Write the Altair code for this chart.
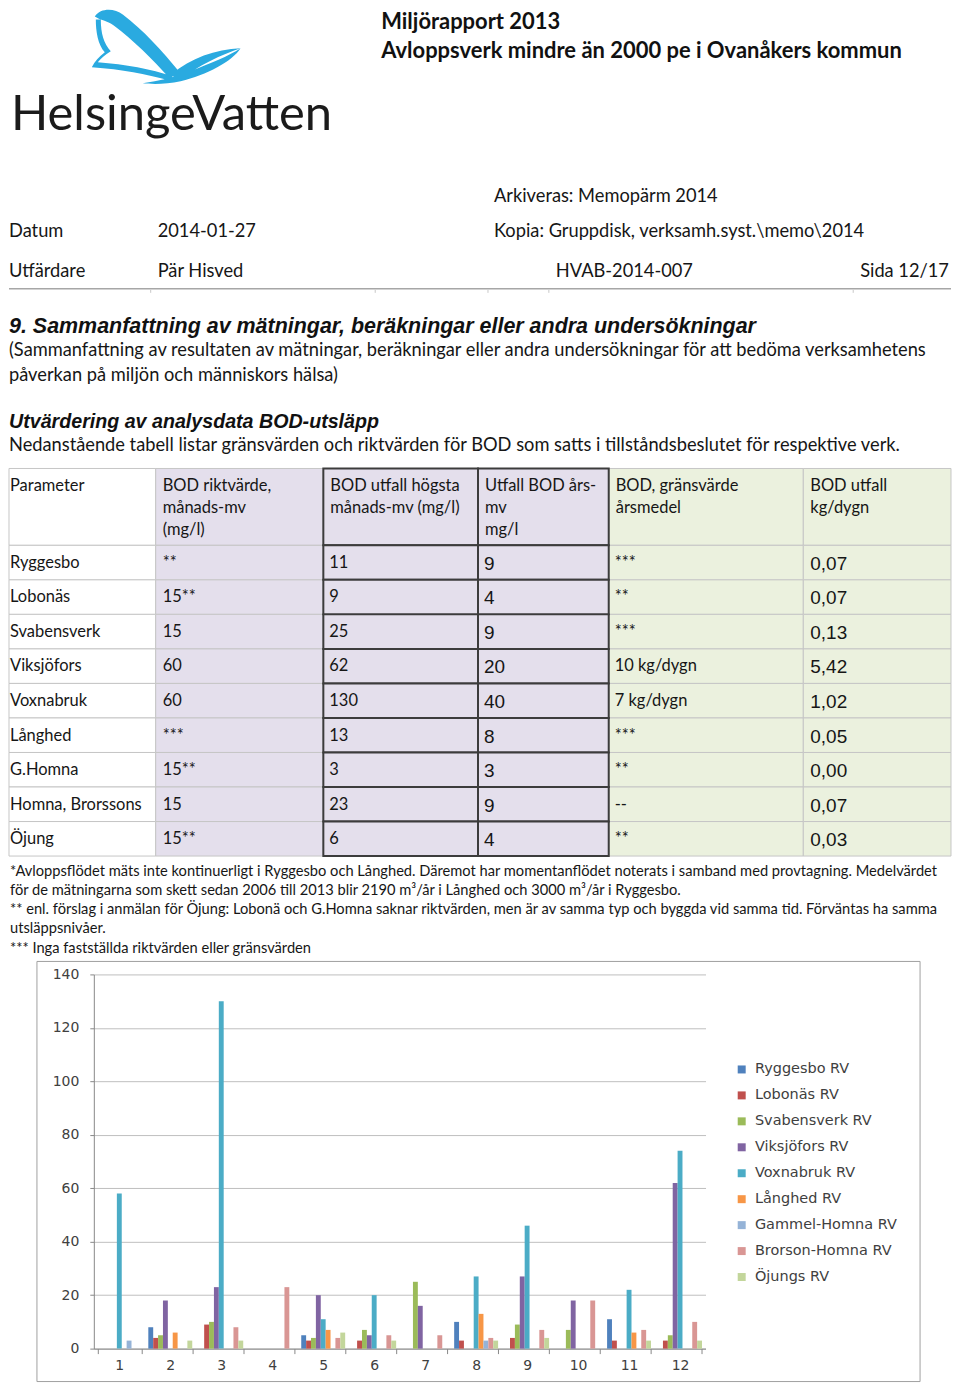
import altair as alt
import pandas as pd

# ---------------- chart data ----------------
months = [str(m) for m in range(1, 13)]
series = ["Ryggesbo RV", "Lobonäs RV", "Svabensverk RV", "Viksjöfors RV",
          "Voxnabruk RV", "Långhed RV", "Gammel-Homna RV", "Brorson-Homna RV", "Öjungs RV"]
ryggesbo = [0, 8, 0, 0, 5, 0, 0, 10, 0, 0, 11, 0]
lobonas = [0, 4, 9, 0, 3, 3, 0, 3, 4, 0, 3, 3]
svabensverk = [0, 5, 10, 0, 4, 7, 25, 0, 9, 7, 0, 5]
viksjofors = [0, 18, 23, 0, 20, 5, 16, 0, 27, 18, 0, 62]
voxnabruk = [58, 0, 130, 0, 11, 20, 0, 27, 46, 0, 22, 74]
langhed = [0, 6, 0, 0, 7, 0, 0, 13, 0, 0, 6, 0]
gammel_homna = [3, 0, 0, 0, 0, 0, 0, 3, 0, 0, 0, 0]
brorson_homna = [0, 0, 8, 23, 4, 5, 5, 4, 7, 18, 7, 10]
ojungs = [0, 3, 3, 0, 6, 3, 0, 3, 4, 0, 3, 3]
y_ticks = [0, 20, 40, 60, 80, 100, 120, 140]
series_colors = ["#4F81BD", "#C0504D", "#9BBB59", "#8064A2", "#4BACC6",
                 "#F79646", "#95B3D7", "#D99694", "#C3D69B"]

# ---------------- table data ----------------
col_headers = [["Parameter"],
               ["BOD riktvärde,", "månads-mv", "(mg/l)"],
               ["BOD utfall högsta", "månads-mv (mg/l)"],
               ["Utfall BOD års-", "mv", "mg/l"],
               ["BOD, gränsvärde", "årsmedel"],
               ["BOD utfall", "kg/dygn"]]
plants = ["Ryggesbo", "Lobonäs", "Svabensverk", "Viksjöfors", "Voxnabruk",
          "Långhed", "G.Homna", "Homna, Brorssons", "Öjung"]
riktvarde = ["**", "15**", "15", "60", "60", "***", "15**", "15", "15**"]
utfall_hogsta = ["11", "9", "25", "62", "130", "13", "3", "23", "6"]
utfall_ar = ["9", "4", "9", "20", "40", "8", "3", "9", "4"]
gransvarde = ["***", "**", "***", "10 kg/dygn", "7 kg/dygn", "***", "**", "--", "**"]
kg_dygn = ["0,07", "0,07", "0,13", "5,42", "1,02", "0,05", "0,00", "0,07", "0,03"]

title_lines = ["Miljörapport 2013", "Avloppsverk mindre än 2000 pe i Ovanåkers kommun"]
heading1 = "9. Sammanfattning av mätningar, beräkningar eller andra undersökningar"
heading2 = "Utvärdering av analysdata BOD-utsläpp"
para_lines = ["(Sammanfattning av resultaten av mätningar, beräkningar eller andra undersökningar för att bedöma verksamhetens",
              "påverkan på miljön och människors hälsa)",
              "Nedanstående tabell listar gränsvärden och riktvärden för BOD som satts i tillståndsbeslutet för respektive verk."]
footnotes = ["*Avloppsflödet mäts inte kontinuerligt i Ryggesbo och Långhed. Däremot har momentanflödet noterats i samband med provtagning. Medelvärdet",
             "för de mätningarna som skett sedan 2006 till 2013 blir 2190 m³/år i Långhed och 3000 m³/år i Ryggesbo.",
             "** enl. förslag i anmälan för Öjung: Lobonä och G.Homna saknar riktvärden, men är av samma typ och byggda vid samma tid. Förväntas ha samma",
             "utsläppsnivåer.",
             "*** Inga fastställda riktvärden eller gränsvärden"]

# ---------------- layout (page pixels) ----------------
OX, OY = 93, 975          # plot origin on the page
PW, PH = 613, 375         # plot size
BODY = "Lato"
ARIAL = "Liberation Sans"
CHARTF = "DejaVu Sans"


def pos_enc():
    return dict(x=alt.X("x:Q", scale=None, axis=None), y=alt.Y("y:Q", scale=None, axis=None))


def text_layer(rows, size, font=BODY, weight="normal", style="normal", color="#161616"):
    df = pd.DataFrame(rows, columns=["x", "y", "text"])
    df["x"] = df["x"] - OX
    df["y"] = df["y"] - OY
    return alt.Chart(df).mark_text(align="left", baseline="middle", font=font, fontSize=size,
                                   fontWeight=weight, fontStyle=style, color=color).encode(
        text="text:N", **pos_enc())


def rect_layer(rows, stroke, sw):
    df = pd.DataFrame(rows, columns=["x", "x2", "y", "y2", "fill"])
    df["x"] = df["x"] - OX
    df["x2"] = df["x2"] - OX
    df["y"] = df["y"] - OY
    df["y2"] = df["y2"] - OY
    return alt.Chart(df).mark_rect(stroke=stroke, strokeWidth=sw).encode(
        x2="x2:Q", y2="y2:Q", fill=alt.Fill("fill:N", scale=None, legend=None), **pos_enc())


def rule_layer(rows, color, sw):
    df = pd.DataFrame(rows, columns=["x", "x2", "y", "y2"])
    df["x"] = df["x"] - OX
    df["x2"] = df["x2"] - OX
    df["y"] = df["y"] - OY
    df["y2"] = df["y2"] - OY
    return alt.Chart(df).mark_rule(color=color, strokeWidth=sw).encode(x2="x2:Q", y2="y2:Q", **pos_enc())


layers = []

# invisible page frame (anchors the layout to the page)
layers.append(rect_layer([[8, 952, 8, 1383, "#ffffff"]], "#ffffff", 0).mark_rect(opacity=0))

# ---- logo ----
swoosh = ("M -71,-30 C -65,-39 -51,-38 -43,-32 C -23,-17 -3,5 14,26 L 4,32 C -13,13 -33,-7 -52,-21 C -59,-26 -65,-26 -71,-30 Z "
          "M -65,-27 C -65,-13 -62,-3 -55,5 C -61,9 -65,12 -68,16 C -40,18 -15,23 7,30 L 3,34 C -20,28 -43,23 -74,21 "
          "C -71,15 -67,11 -61,6 C -68,-2 -70,-15 -70,-27 Z "
          "M 6,28 C 25,12 50,3 75,2 C 57,8 33,19 12,35 Z "
          "M 75,2 C 67,15 41,29 15,35 C 1,38 -13,38 -23,37 C -7,35 9,31 25,25 C 45,17 63,10 75,2 Z")
logo_df = pd.DataFrame({"x": [165 - OX], "y": [45 - OY]})
layers.append(alt.Chart(logo_df).mark_point(shape=swoosh, filled=True, size=4, color="#2AAAE0",
                                            opacity=1, strokeWidth=0).encode(**pos_enc()))
layers.append(text_layer([[10, 114, "HelsingeVatten"]], 49, color="#1b1b1b"))

# ---- document header ----
layers.append(text_layer([[381, 21, title_lines[0]], [381, 50, title_lines[1]]], 22, weight="bold", color="#111111"))
layers.append(text_layer([[494, 196, "Arkiveras: Memopärm 2014"],
                          [8, 231, "Datum"], [157, 231, "2014-01-27"],
                          [494, 231, "Kopia: Gruppdisk, verksamh.syst.\\memo\\2014"],
                          [8, 271, "Utfärdare"], [157, 271, "Pär Hisved"],
                          [556, 271, "HVAB-2014-007"], [861, 271, "Sida 12/17"]], 18.3))
layers.append(rule_layer([[8, 952, 288, 288]], "#A6A6A6", 1.5))
layers.append(rule_layer([[x, x, 289, 292] for x in [150, 375, 488, 549, 854]], "#C8C8C8", 1))

# ---- section text ----
layers.append(text_layer([[8, 326, heading1]], 21.5, font=ARIAL, weight="bold", style="italic", color="#111111"))
layers.append(text_layer([[8, 421, heading2]], 19.7, font=ARIAL, weight="bold", style="italic", color="#111111"))
layers.append(text_layer([[8, 350, para_lines[0]], [8, 375, para_lines[1]], [8, 445, para_lines[2]]], 18.3))

# ---- table ----
xs = [8, 155, 323, 478, 609, 804, 952]
ys = [468, 545] + [545 + 34.6 * (i + 1) for i in range(9)]
lav, grn = "#E4DFEC", "#EBF1DE"
light_cells, dark_cells, green_cells = [], [], []
for r in range(10):
    y0, y1 = ys[r], ys[r + 1]
    light_cells.append([xs[0], xs[1], y0, y1, "#ffffff"])
    light_cells.append([xs[1], xs[2], y0, y1, lav])
    dark_cells.append([xs[2], xs[3], y0, y1, lav])
    dark_cells.append([xs[3], xs[4], y0, y1, lav])
    green_cells.append([xs[4], xs[5], y0, y1, grn])
    green_cells.append([xs[5], xs[6], y0, y1, grn])
layers.append(rect_layer(light_cells, "#C6C6C6", 1))
layers.append(rect_layer(green_cells, "#C6C6C6", 1))
layers.append(rect_layer(dark_cells, "#3C3C3C", 2))

head_rows = []
for c, lines in enumerate(col_headers):
    for k, line in enumerate(lines):
        head_rows.append([xs[c] + 7 if c > 0 else 9, 486 + 22 * k, line])
layers.append(text_layer(head_rows, 16.5))

body_rows, arial_rows = [], []
for i in range(9):
    yc = ys[i + 1] + 17.6
    body_rows.append([9, yc, plants[i]])
    body_rows.append([xs[1] + 7, yc, riktvarde[i]])
    body_rows.append([xs[2] + 6, yc, utfall_hogsta[i]])
    body_rows.append([xs[4] + 6, yc, gransvarde[i]])
    arial_rows.append([xs[3] + 6, yc + 1, utfall_ar[i]])
    arial_rows.append([xs[5] + 7, yc + 1, kg_dygn[i]])
layers.append(text_layer(body_rows, 16.5))
layers.append(text_layer(arial_rows, 19, font=ARIAL))

# ---- footnotes ----
layers.append(text_layer([[9, 872 + 19.3 * k, t] for k, t in enumerate(footnotes)], 14.7))

# ---- chart frame ----
layers.append(rect_layer([[36, 921, 962, 1383, "#ffffff"]], "#A0A0A0", 1).mark_rect(
    fillOpacity=0, stroke="#A0A0A0", strokeWidth=1))

# ---- bars ----
values = [ryggesbo, lobonas, svabensverk, viksjofors, voxnabruk, langhed,
          gammel_homna, brorson_homna, ojungs]
bar_rows = []
for s, vals in zip(series, values):
    for m, v in zip(months, vals):
        bar_rows.append({"month": m, "series": s, "value": v})
bars_df = pd.DataFrame(bar_rows)

bars = alt.Chart(bars_df).transform_filter("datum.value > 0").mark_bar().encode(
    x=alt.X("month:N", sort=months, scale=alt.Scale(paddingInner=0.138, paddingOuter=0.069),
            axis=alt.Axis(title=None, labelAngle=0, tickBand="extent", grid=False,
                          domainColor="#888888", tickColor="#888888", tickSize=5,
                          labelFont=CHARTF, labelFontSize=14, labelColor="#404040", labelPadding=5)),
    xOffset=alt.XOffset("series:N", sort=series, scale=alt.Scale(paddingInner=0, paddingOuter=0)),
    y=alt.Y("value:Q", scale=alt.Scale(domain=[0, 140], nice=False),
            axis=alt.Axis(title=None, values=y_ticks, grid=True, gridColor="#BFBFBF",
                          domainColor="#888888", tickColor="#888888", tickSize=4,
                          labelFont=CHARTF, labelFontSize=14, labelColor="#404040", labelPadding=11)),
    color=alt.Color("series:N", sort=series, scale=alt.Scale(domain=series, range=series_colors),
                    legend=alt.Legend(orient="none", legendX=642, legendY=88, title=None,
                                      symbolType="square", symbolSize=64, symbolStrokeWidth=0,
                                      labelFont=CHARTF, labelFontSize=14.5, labelColor="#404040",
                                      rowPadding=11, labelOffset=6)),
)
layers.append(bars)

chart = alt.layer(*layers).properties(width=PW, height=PH, padding=0).configure_view(strokeWidth=0)
chart.save("out.html", embed_options={"renderer": "svg", "actions": False})
